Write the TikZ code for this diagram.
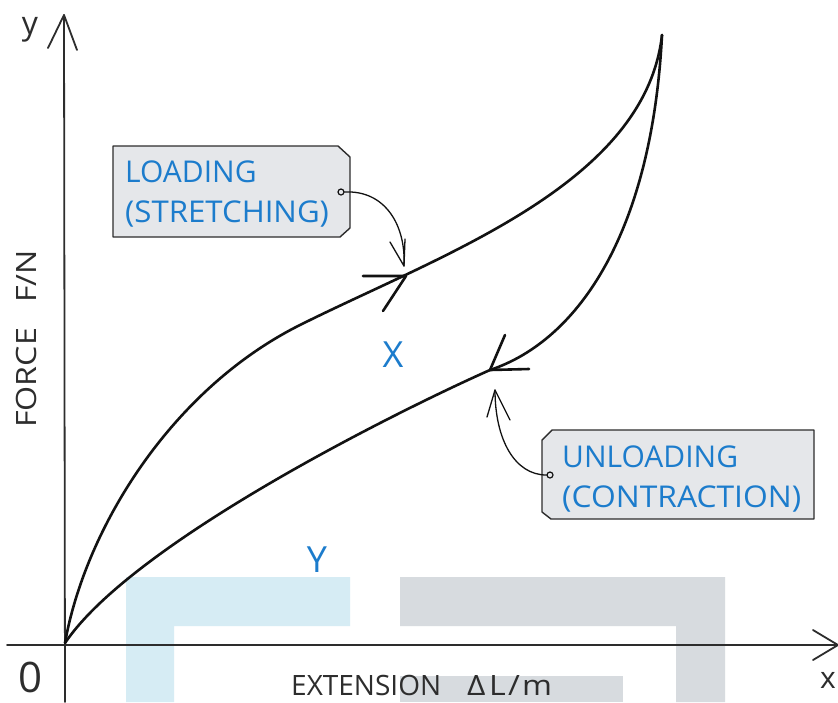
\documentclass[tikz,border=0pt]{standalone}
\usepackage{fontspec}
\setmainfont{Open Sans}
\definecolor{wmblue}{RGB}{214,236,244}
\definecolor{wmgrey}{RGB}{215,219,223}
\definecolor{lblblue}{RGB}{28,124,204}
\definecolor{tagfill}{RGB}{229,231,234}
\definecolor{ink}{RGB}{18,18,18}
\definecolor{axisink}{RGB}{45,45,45}
\begin{document}
\begin{tikzpicture}[x=1pt,y=-1pt,
  curve/.style={line width=2.6pt, draw=ink, line cap=round, line join=round},
  axisline/.style={line width=1.8pt, draw=axisink, line cap=round, line join=round},
  callout/.style={line width=1.3pt, draw=ink, line cap=round, line join=round},
  tagbox/.style={draw=axisink, line width=1.4pt, fill=tagfill, line join=round},
  tagtext/.style={text=lblblue, font=\fontsize{30}{30}\selectfont, anchor=base west, inner sep=0pt},
  axtext/.style={text=axisink, font=\fontsize{28}{28}\selectfont, inner sep=0pt},
  regtext/.style={text=lblblue, font=\fontsize{36}{36}\selectfont, inner sep=0pt},
  dot/.style={circle, draw=ink, line width=1.2pt, fill=tagfill, minimum size=6pt, inner sep=0pt}]
\useasboundingbox (0,0) rectangle (838,702);
\fill[white] (0,0) rectangle (838,702);
% watermark shapes
\fill[wmblue] (126,577) -- (350,577) -- (350,626) -- (174,626) -- (174,702) -- (126,702) -- cycle;
\fill[wmgrey] (400,577) -- (725,577) -- (725,702) -- (676,702) -- (676,626) -- (400,626) -- cycle;
\fill[wmgrey] (400,676) rectangle (623,702);
% axes
\coordinate (ytop) at (64,15);
\coordinate (ybot) at (65,702);
\coordinate (xleft) at (7,645);
\coordinate (xtip) at (838,645);
\draw[axisline] (ybot) -- (ytop);
\draw[axisline] (48,48) -- (ytop) -- (77,50);
\draw[axisline] (xleft) -- (xtip);
\draw[axisline] (813,630) -- (xtip) -- (813,660);
\node[axtext, font=\fontsize{32}{32}\selectfont, anchor=base] (ylab) at (30,34) {y};
\node[axtext, font=\fontsize{30}{30}\selectfont, anchor=base] (xlab) at (828,688) {x};
\node[axtext, font=\fontsize{42}{42}\selectfont, anchor=base] (zero) at (31,692) {0};
\node[axtext, anchor=base west] (xname) at (291,695) {EXTENSION\hspace{26pt}\scalebox{1.15}[1]{Δ\kern3pt L\kern2pt/\kern2pt m}};
\node[axtext, anchor=base west, rotate=90] (yname) at (36,428) {\scalebox{1.15}[1]{FORCE\hspace{22pt}F/N}};
% curves
\coordinate (O) at (65,643);
\coordinate (top) at (662,35);
\coordinate (infl) at (300,325);
\coordinate (ua) at (490,370);
\draw[curve] (O) .. controls (85,530) and (170,390) .. (infl)
                 .. controls (440,255) and (645,185) .. (top);
\draw[curve] (top) .. controls (652,230) and (580,340) .. (ua)
                   .. controls (400,410) and (133,542) .. (O);
% direction arrows on curves
\coordinate (la) at (406,276);
\draw[curve] (363,276) -- (la) -- (383,311);
\draw[curve] (505,335) -- (ua) -- (529,369);
% tags
\draw[tagbox] (113,146) -- (338,146) -- (350,157) -- (350,228) -- (340,237) -- (113,237) -- cycle;
\node[tagtext] (load1) at (125,182) {LOADING};
\node[tagtext] (load2) at (125,222) {\scalebox{1.04}[1]{(STRETCHING)}};
\draw[tagbox] (552,430) -- (814,430) -- (814,519) -- (551,519) -- (542,512) -- (542,440) -- cycle;
\node[tagtext] (unload1) at (562,467) {UNLOADING};
\node[tagtext] (unload2) at (562,507) {\scalebox{1.06}[1]{(CONTRACTION)}};
% callouts
\node[dot] (d1) at (341,192) {};
\coordinate (t1) at (404,266);
\draw[callout] (d1.east) .. controls (385,190) and (406,225) .. (t1);
\draw[callout] (390,242) -- (t1) -- (405,239);
\node[dot] (d2) at (550,475) {};
\coordinate (t2) at (495,390);
\draw[callout] (d2.west) .. controls (515,475) and (495,440) .. (t2);
\draw[callout] (487,417) -- (t2) -- (510,420);
% region labels
\node[regtext] (X) at (393,355) {X};
\node[regtext] (Y) at (317,560) {Y};
\end{tikzpicture}
\end{document}
